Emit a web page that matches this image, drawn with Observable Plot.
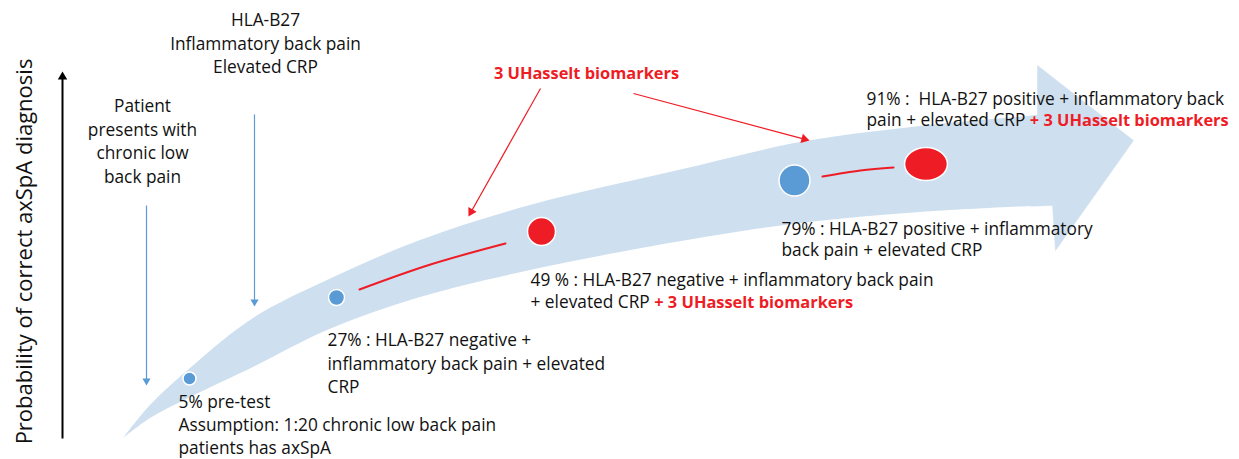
<!DOCTYPE html>
<html><head><meta charset="utf-8">
<script src="https://cdn.jsdelivr.net/npm/d3@7"></script>
<script src="https://cdn.jsdelivr.net/npm/@observablehq/plot@0.6"></script>
<style>html,body{margin:0;padding:0;background:#fff}#chart svg{display:block}</style>
</head><body><div id="chart"></div><script>
// ---- data ----
const stageProbabilities = [5, 27, 49, 79, 91];
const stageWithBiomarkers = [false, false, true, false, true];
const stageX = [189, 336, 541, 794, 925.5];
const stageY = [378, 297, 231, 180, 163.5];
const stageRadius = [6.5, 8, 14, 15.5, 18.8];
const stageAspect = [1, 1, 1, 1, 1.14];

const stageLabels = [
  ["5% pre-test", "Assumption: 1:20 chronic low back pain", "patients has axSpA"],
  ["27% : HLA-B27 negative +", "inflammatory back pain + elevated", "CRP"],
  ["49 % : HLA-B27 negative + inflammatory back pain", "+ elevated CRP "],
  ["79% : HLA-B27 positive + inflammatory", "back pain + elevated CRP"],
  ["91% :  HLA-B27 positive + inflammatory back", "pain + elevated CRP "]
];
const stageLabelX = [178, 327, 530, 781, 866];
const stageLabelY = [402, 340, 280, 229, 99];
const stageLabelStep = [23, 23.5, 22, 21, 21];
const biomarkerText = "+ 3 UHasselt biomarkers";
const biomarkerTitle = "3 UHasselt biomarkers";

const headerLines = ["HLA-B27", "Inflammatory back pain", "Elevated CRP"];
const patientLines = ["Patient", "presents with", "chronic low", "back pain"];
const axisTitle = "Probability of correct axSpA diagnosis";

// arrow band (schematic coordinates)
const bandX =     [123, 150, 190, 253, 327, 420, 530, 687, 800, 920, 1040];
const bandUpper = [438, 405, 368, 318, 280, 240, 205, 168, 142, 126, 115];
const bandLower = [438, 418, 397, 367, 330, 297, 270, 240, 223, 212, 205.5];
const headX = [1030, 1037, 1037, 1133, 1055, 1052, 1030];
const headY = [115.5, 115, 65, 140, 250, 205, 205.8];

// connectors between stages (red)
const linkA = [[359, 289], [430, 264], [505, 243]];
const linkB = [[822, 176], [860, 170], [893, 167]];

// pointer arrows [x1,y1,x2,y2]
const blueArrows = [[146, 205, 146, 385], [254, 114, 254, 306]];
const redArrows = [[540, 88, 468, 216], [633, 93, 809, 140]];
const axisArrow = [62, 438, 62, 71];

// ---- styles ----
const BAND = "#cedfef", BLUE = "#5b9bd5", RED = "#ee1c25";
const FONT = "Open Sans", FS = 17.3, FSB = 16.4;

const ctx = document.createElement("canvas").getContext("2d");
ctx.font = `${FS}px "${FONT}"`;

const band = bandX.map((x, i) => ({x, upper: bandUpper[i], lower: bandLower[i]}));
const head = headX.map((x, i) => ({x, y: headY[i]}));
const stages = stageProbabilities.map((p, i) => ({p, x: stageX[i], y: stageY[i], r: stageRadius[i], bio: stageWithBiomarkers[i], aspect: stageAspect[i]}));

// ellipse symbol (for the last, slightly wider marker)
function ellipseSymbol(aspect) {
  return {draw(context, size) {
    const r = Math.sqrt(size / Math.PI), rx = r * aspect, ry = r / aspect, k = 0.5523;
    context.moveTo(rx, 0);
    context.bezierCurveTo(rx, ry * k, rx * k, ry, 0, ry);
    context.bezierCurveTo(-rx * k, ry, -rx, ry * k, -rx, 0);
    context.bezierCurveTo(-rx, -ry * k, -rx * k, -ry, 0, -ry);
    context.bezierCurveTo(rx * k, -ry, rx, -ry * k, rx, 0);
    context.closePath();
  }};
}

const lines = [];
const reds = [];
stageLabels.forEach((ls, i) => ls.forEach((t, j) => {
  const row = {x: stageLabelX[i], y: stageLabelY[i] + j * stageLabelStep[i], text: t};
  lines.push(row);
  if (stageWithBiomarkers[i] && j === ls.length - 1) {
    reds.push({x: row.x + ctx.measureText(t).width, y: row.y, text: biomarkerText});
  }
}));
headerLines.forEach((t, j) => lines.push({x: 265, y: 20 + j * 23.5, text: t, anchor: "middle"}));
patientLines.forEach((t, j) => lines.push({x: 142, y: 106 + j * 23.7, text: t, anchor: "middle"}));

function heads(arr, offset) {
  return arr.map(([x1, y1, x2, y2]) => {
    const dx = x2 - x1, dy = y2 - y1, L = Math.hypot(dx, dy);
    return {x: x2 - dx / L * offset, y: y2 - dy / L * offset, rot: Math.atan2(dx, -dy) * 180 / Math.PI,
            x1, y1, x2: x2 - dx / L * offset, y2: y2 - dy / L * offset};
  });
}
const bh = heads(blueArrows, 4.6), rh = heads(redArrows, 5.4), ah = heads([axisArrow], 5.4);

const chart = Plot.plot({
  width: 1239, height: 459, margin: 0,
  x: {domain: [0, 1239], axis: null},
  y: {domain: [0, 459], reverse: true, axis: null},
  r: {type: "identity"},
  style: {fontFamily: `"${FONT}"`, background: "#fff"},
  marks: [
    Plot.areaY(band, {x: "x", y1: "upper", y2: "lower", fill: BAND, curve: "catmull-rom"}),
    Plot.line(head, {x: "x", y: "y", fill: BAND, stroke: BAND, strokeWidth: 0.5, curve: "linear"}),
    Plot.line(linkA, {x: d => d[0], y: d => d[1], stroke: RED, strokeWidth: 2, curve: "natural"}),
    Plot.line(linkB, {x: d => d[0], y: d => d[1], stroke: RED, strokeWidth: 2, curve: "natural"}),
    Plot.dot(stages.filter(d => d.aspect === 1), {x: "x", y: "y", r: "r", fill: d => d.bio ? RED : BLUE, stroke: "white", strokeWidth: 1.5}),
    Plot.dot(stages.filter(d => d.aspect !== 1), {x: "x", y: "y", r: "r", symbol: ellipseSymbol(stageAspect[4]), fill: d => d.bio ? RED : BLUE, stroke: "white", strokeWidth: 1.5}),
    Plot.link(bh, {x1: "x1", y1: "y1", x2: "x2", y2: "y2", stroke: BLUE, strokeWidth: 1.2}),
    Plot.dot(bh, {x: "x", y: "y", symbol: "triangle", r: 3, rotate: "rot", fill: BLUE, stroke: "none"}),
    Plot.link(rh, {x1: "x1", y1: "y1", x2: "x2", y2: "y2", stroke: RED, strokeWidth: 1.2}),
    Plot.dot(rh, {x: "x", y: "y", symbol: "triangle", r: 3.5, rotate: "rot", fill: RED, stroke: "none"}),
    Plot.link(ah, {x1: "x1", y1: "y1", x2: "x2", y2: "y2", stroke: "black", strokeWidth: 2}),
    Plot.dot(ah, {x: "x", y: "y", symbol: "triangle", r: 3.5, rotate: "rot", fill: "black", stroke: "none"}),
    Plot.text([axisTitle], {x: 24, y: 251, text: d => d, rotate: -90, fontSize: 22, fill: "#111", lineAnchor: "middle"}),
    Plot.text(lines.filter(d => !d.anchor), {x: "x", y: "y", text: "text", textAnchor: "start", lineAnchor: "middle", fontSize: FS, fill: "#111"}),
    Plot.text(lines.filter(d => d.anchor), {x: "x", y: "y", text: "text", textAnchor: "middle", lineAnchor: "middle", fontSize: FS, fill: "#111"}),
    Plot.text(reds, {x: "x", y: "y", text: "text", textAnchor: "start", lineAnchor: "middle", fontSize: FSB, fontWeight: "bold", fill: RED}),
    Plot.text([biomarkerTitle], {x: 586, y: 73, text: d => d, textAnchor: "middle", lineAnchor: "middle", fontSize: FSB, fontWeight: "bold", fill: RED})
  ]
});
document.getElementById("chart").appendChild(chart);
</script></body></html>
